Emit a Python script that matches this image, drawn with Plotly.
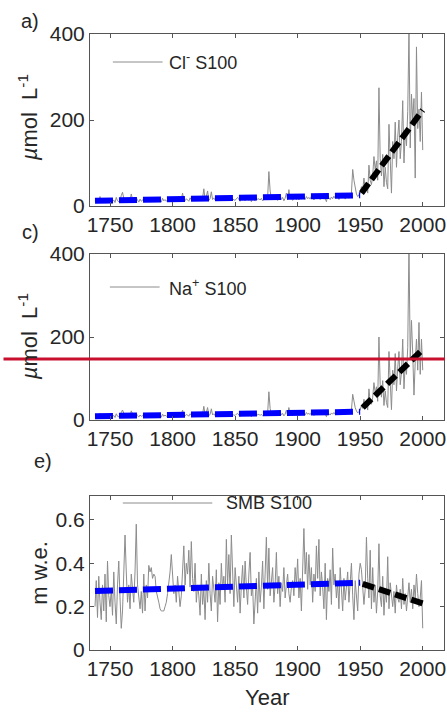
import plotly.graph_objects as go

# ---------------- data ----------------
years = list(range(1738, 2001))

cl_values = [
    12, 8,
    15, 10, 22, 9, 14, 11, 18, 7, 13, 10,
    9, 16, 11, 14, 8, 20, 12, 10, 15, 24,
    32, 18, 11, 14, 9, 17, 13, 28, 15, 10,
    12, 19, 14, 9, 16, 11, 13, 18, 10, 14,
    12, 17, 9, 15, 13, 11, 20, 14, 10, 16,
    13, 9, 18, 12, 15, 11, 14, 10, 19, 13,
    15, 12, 18, 14, 11, 22, 13, 16, 30, 14,
    12, 17, 15, 11, 19, 14, 13, 18, 12, 16,
    14, 20, 15, 12, 18, 40, 16, 22, 35, 13,
    17, 33, 15, 19, 14, 21, 16, 12, 18, 15,
    14, 19, 13, 17, 22, 15, 12, 18, 16, 14,
    13, 17, 20, 15, 11, 18, 14, 16, 12, 19,
    15, 13, 18, 10, 16, 14, 12, 19, 15, 17,
    14, 18, 12, 16, 22, 15, 20, 80, 35, 18,
    16, 22, 14, 19, 13, 17, 26, 15, 20, 12,
    18, 30, 14, 38, 16, 20, 13, 17, 22, 15,
    19, 14, 21, 16, 24, 18, 15, 22, 17, 20,
    16, 23, 18, 14, 20, 25, 17, 21, 15, 19,
    22, 16, 18, 10, 24, 19, 15, 21, 17, 23,
    18, 26, 20, 15, 22, 28, 19, 24, 16, 21,
    25, 18, 22, 30, 85, 60, 40, 28, 22, 25,
    30, 45, 35, 65, 40, 55, 30, 95, 60, 50,
    70, 115, 85, 105, 60, 275, 110, 70, 120, 45,
    90, 55, 40, 190, 100, 30, 150, 110, 195, 90,
    160, 200, 110, 150, 245, 100, 175, 140, 220, 410,
    135, 260, 200, 250, 65, 370, 180, 225, 150, 265,
    130,
]

na_values = [
    9, 6,
    11, 8, 16, 7, 10, 9, 14, 6, 10, 8,
    7, 12, 9, 11, 6, 15, 9, 8, 12, 18,
    24, 14, 9, 11, 7, 13, 10, 22, 12, 8,
    9, 15, 11, 7, 12, 9, 10, 14, 8, 11,
    10, 13, 7, 12, 10, 9, 16, 11, 8, 12,
    10, 7, 14, 9, 12, 9, 11, 8, 15, 10,
    12, 9, 14, 11, 9, 17, 10, 13, 24, 11,
    10, 13, 12, 9, 15, 11, 10, 14, 10, 13,
    11, 16, 12, 10, 14, 33, 13, 18, 30, 11,
    13, 27, 12, 15, 11, 17, 13, 10, 14, 12,
    11, 15, 10, 14, 18, 12, 10, 14, 13, 11,
    11, 14, 16, 12, 9, 15, 11, 13, 10, 15,
    12, 10, 14, 8, 13, 11, 10, 15, 12, 14,
    11, 14, 10, 13, 18, 12, 16, 68, 28, 14,
    13, 18, 11, 15, 10, 14, 21, 12, 16, 10,
    14, 24, 11, 30, 13, 16, 10, 14, 18, 12,
    15, 11, 17, 13, 19, 14, 12, 18, 14, 16,
    13, 18, 14, 11, 16, 20, 14, 17, 12, 15,
    18, 13, 15, 8, 19, 15, 12, 17, 14, 18,
    14, 21, 16, 12, 18, 22, 15, 19, 13, 17,
    20, 14, 18, 24, 62, 45, 30, 22, 17, 20,
    24, 35, 28, 50, 30, 42, 24, 75, 45, 38,
    55, 90, 65, 80, 45, 200, 85, 55, 95, 35,
    70, 42, 30, 165, 80, 25, 120, 85, 160, 70,
    125, 165, 85, 115, 195, 75, 135, 110, 175, 420,
    150, 240, 160, 60, 140, 195, 120, 235, 110, 195,
    120,
]

smb_values = [
    0.20, 0.32,
    0.15, 0.34, 0.22, 0.14, 0.30, 0.18, 0.35, 0.13, 0.41, 0.25,
    0.20, 0.28, 0.16, 0.36, 0.22, 0.12, 0.30, 0.41, 0.24, 0.10,
    0.18, 0.33, 0.53, 0.36, 0.22, 0.30, 0.19, 0.35, 0.26, 0.22,
    0.36, 0.58, 0.30, 0.24, 0.19, 0.27, 0.17, 0.35, 0.18, 0.30,
    0.24, 0.39, 0.36, 0.38, 0.33, 0.35, 0.34, 0.27, 0.25, 0.22,
    0.19, 0.18, 0.18, 0.18, 0.20, 0.22, 0.26, 0.31, 0.36, 0.44,
    0.32, 0.26, 0.30, 0.22, 0.34, 0.28, 0.20, 0.25, 0.38, 0.48,
    0.30, 0.40, 0.35, 0.46, 0.29, 0.50, 0.33, 0.27, 0.40, 0.22,
    0.30, 0.25, 0.16, 0.35, 0.21, 0.28, 0.14, 0.32, 0.22, 0.40,
    0.26, 0.18, 0.34, 0.29, 0.22, 0.37, 0.13, 0.31, 0.21, 0.40,
    0.28, 0.34, 0.22, 0.51, 0.30, 0.44, 0.26, 0.53, 0.35, 0.20,
    0.38, 0.28, 0.22, 0.34, 0.17, 0.30, 0.39, 0.24, 0.41, 0.29,
    0.21, 0.35, 0.45, 0.25, 0.30, 0.12, 0.27, 0.33, 0.17, 0.36,
    0.22, 0.29, 0.41, 0.19, 0.35, 0.52, 0.28, 0.47, 0.25, 0.33,
    0.38, 0.22, 0.30, 0.45, 0.26, 0.34, 0.20, 0.31, 0.27, 0.38,
    0.24, 0.30, 0.35, 0.26, 0.22, 0.29, 0.32, 0.25, 0.38, 0.30,
    0.42, 0.24, 0.33, 0.18, 0.40, 0.56, 0.35, 0.45, 0.28, 0.44,
    0.30, 0.38, 0.22, 0.35, 0.27, 0.48, 0.33, 0.51, 0.25, 0.36,
    0.29, 0.19, 0.40, 0.14, 0.33, 0.27, 0.37, 0.21, 0.47, 0.30,
    0.35, 0.24, 0.31, 0.19, 0.38, 0.26, 0.18, 0.33, 0.23, 0.29,
    0.36, 0.22, 0.30, 0.40, 0.25, 0.14, 0.32, 0.26, 0.18, 0.35,
    0.40, 0.37, 0.30, 0.21, 0.28, 0.52, 0.33, 0.24, 0.46, 0.19,
    0.38, 0.22, 0.30, 0.17, 0.27, 0.49, 0.25, 0.20, 0.34, 0.16,
    0.28, 0.22, 0.43, 0.19, 0.31, 0.25, 0.20, 0.27, 0.17, 0.30,
    0.24, 0.22, 0.28, 0.19, 0.33, 0.21, 0.26, 0.18, 0.24, 0.31,
    0.22, 0.28, 0.19, 0.30, 0.24, 0.35, 0.26, 0.20, 0.24, 0.32,
    0.10,
]

# trend lines (end points)
pre_years = [1738, 1950]
post_years_cl = [1951, 2000]
post_years_na = [1952, 2000]
post_years_smb = [1952, 2000]
cl_trend_pre = [12, 25]
cl_trend_post = [30, 223]
na_trend_pre = [9, 20]
na_trend_post = [30, 170]
smb_trend_pre = [0.272, 0.310]
smb_trend_post = [0.305, 0.215]

panel_labels = ["a)", "c)", "e)"]
legend_labels = ["Cl<sup>-</sup> S100", "Na<sup>+</sup> S100", "SMB S100"]
y_titles = ["<i>µ</i>mol  L<sup>-1</sup>", "<i>µ</i>mol  L<sup>-1</sup>", "m w.e."]
x_ticks = [1750, 1800, 1850, 1900, 1950, 2000]
conc_ticks = [0, 200, 400]
smb_ticks = [0, 0.2, 0.4, 0.6]
red_line_value = 147  # µmol L-1 on panel c)

# ---------------- layout geometry ----------------
W, H = 447, 712
ML, MR, MT, MB = 90, 1, 34, 62
PW = W - ML - MR
PH = H - MT - MB


def px(x):
    return (x - ML) / PW


def py(y):
    return (H - MB - y) / PH


panels = [(34, 206), (254, 420), (496, 650)]  # top, bottom in pixels

FONT = "Liberation Sans, Arial, Helvetica, sans-serif"
TXT = "#262626"
GRAY = "#8c8c8c"
BLUE = "#0000ff"

fig = go.Figure()

series = [
    (cl_values, cl_trend_pre, post_years_cl, cl_trend_post),
    (na_values, na_trend_pre, post_years_na, na_trend_post),
    (smb_values, smb_trend_pre, post_years_smb, smb_trend_post),
]

for i, (vals, tpre, pyears, tpost) in enumerate(series):
    xa = "x" if i == 0 else f"x{i+1}"
    ya = "y" if i == 0 else f"y{i+1}"
    fig.add_trace(go.Scatter(x=years, y=vals, mode="lines",
                             line=dict(color=GRAY, width=1),
                             xaxis=xa, yaxis=ya, showlegend=False))
    fig.add_trace(go.Scatter(x=pre_years, y=tpre, mode="lines",
                             line=dict(color=BLUE, width=6, dash="18px,6px"),
                             xaxis=xa, yaxis=ya, showlegend=False))
    fig.add_trace(go.Scatter(x=pyears, y=tpost, mode="lines",
                             line=dict(color="black", width=6, dash="12px,5px"),
                             xaxis=xa, yaxis=ya, showlegend=False))

axis_common = dict(showline=True, linecolor="#555555", linewidth=1,
                   mirror="ticks", ticks="inside", ticklen=4,
                   tickcolor="#555555", showgrid=False, zeroline=False,
                   ticklabeloverflow="allow",
                   tickfont=dict(family=FONT, size=21, color=TXT))

layout = dict(width=W, height=H, margin=dict(l=ML, r=MR, t=MT, b=MB),
              paper_bgcolor="white", plot_bgcolor="white",
              showlegend=False)

for i, (top, bot) in enumerate(panels):
    suffix = "" if i == 0 else str(i + 1)
    layout["xaxis" + suffix] = dict(axis_common, range=[1734, 2017],
                                    tickvals=x_ticks,
                                    domain=[0, 1],
                                    anchor="y" + suffix)
    if i < 2:
        yr, yt = [0, 400], conc_ticks
    else:
        yr, yt = [0, 0.71], smb_ticks
    layout["yaxis" + suffix] = dict(axis_common, range=yr, tickvals=yt,
                                    domain=[py(bot), py(top)],
                                    anchor="x" + suffix)

fig.update_layout(**layout)

annotations = []
shapes = []

# panel labels
label_pos = [(30, 21), (30, 232), (43, 461)]
for lab, (lx, ly) in zip(panel_labels, label_pos):
    annotations.append(dict(text=lab, x=px(lx), y=py(ly), xref="paper", yref="paper",
                            showarrow=False, xanchor="center", yanchor="middle",
                            font=dict(family=FONT, size=20, color=TXT)))

# legends (line sample + text)
leg_pos = [(113, 163, 62, 167), (110, 160, 287, 167), (123, 213, 503, 225)]
for lab, (x0, x1, ly, tx) in zip(legend_labels, leg_pos):
    shapes.append(dict(type="line", xref="paper", yref="paper",
                       x0=px(x0), x1=px(x1), y0=py(ly), y1=py(ly),
                       line=dict(color=GRAY, width=1)))
    annotations.append(dict(text=lab, x=px(tx), y=py(ly), xref="paper", yref="paper",
                            showarrow=False, xanchor="left", yanchor="middle",
                            font=dict(family=FONT, size=18, color=TXT)))

# y-axis titles: right edge of the rotated text box
ytitle_pos = [(44, 118), (44, 337), (53, 573)]
for t, (tx, ty) in zip(y_titles, ytitle_pos):
    annotations.append(dict(text=t, x=px(tx), y=py(ty), xref="paper", yref="paper",
                            showarrow=False, textangle=-90,
                            xanchor="right", yanchor="middle",
                            font=dict(family=FONT, size=22, color=TXT)))

# x-axis title
annotations.append(dict(text="Year", x=px(268), y=py(697), xref="paper", yref="paper",
                        showarrow=False, xanchor="center", yanchor="middle",
                        font=dict(family=FONT, size=22, color=TXT)))

# red horizontal line across the whole figure at the panel c) level
shapes.append(dict(type="line", xref="paper", yref="y2",
                   x0=px(3), x1=px(447), y0=red_line_value, y1=red_line_value,
                   line=dict(color="#C8102E", width=3), layer="above"))

fig.update_layout(annotations=annotations, shapes=shapes)

fig.write_html(
    "out.html",
    config={"displayModeBar": False},
    post_script="document.body.style.margin='0';document.body.style.padding='0';"
                "document.documentElement.style.overflow='hidden';",
)
